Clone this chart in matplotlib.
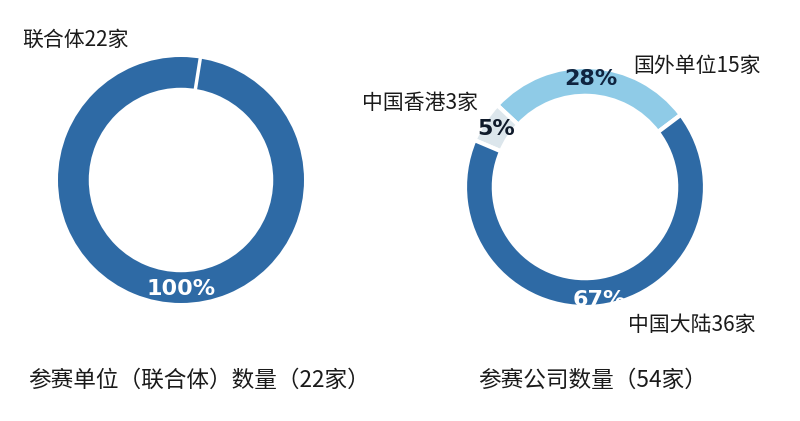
import matplotlib
matplotlib.use("Agg")
import matplotlib.pyplot as plt
import numpy as np

plt.rcParams['font.family'] = ['Noto Sans CJK SC', 'DejaVu Sans']

# Data
left_labels = ["联合体22家"]
left_values = [22]
left_pct = ["100%"]
left_title = "参赛单位（联合体）数量（22家）"

right_labels = ["国外单位15家", "中国香港3家", "中国大陆36家"]
right_values = [15, 3, 36]
right_pct = ["28%", "5%", "67%"]
right_title = "参赛公司数量（54家）"

DARK = "#2e6aa5"
LIGHT = "#8fcbe7"
PALE = "#dce6ec"

W, H = 800, 421
fig = plt.figure(figsize=(W / 100, H / 100), dpi=100)


def px_axes(cx, cy, r):
    return fig.add_axes([(cx - r) / W, (H - cy - r) / H, 2 * r / W, 2 * r / H])


PCT_FONT = dict(fontsize=16, fontweight="bold", family=["DejaVu Sans"],
                ha="center", va="center")

# Left donut
axL = px_axes(181, 180, 123)
ring_w = 0.25
wl, _ = axL.pie(left_values, colors=[DARK], startangle=81, counterclock=True,
                radius=1, wedgeprops=dict(width=ring_w, edgecolor="white", linewidth=0))
axL.set_xlim(-1, 1); axL.set_ylim(-1, 1); axL.set_aspect('equal'); axL.axis('off')
# white separator at the start of the single wedge
t0 = np.deg2rad(wl[0].theta1)
axL.plot([(1 - ring_w - 0.02) * np.cos(t0), 1.02 * np.cos(t0)],
         [(1 - ring_w - 0.02) * np.sin(t0), 1.02 * np.sin(t0)],
         color="white", lw=2.5, solid_capstyle="butt")
ang = np.deg2rad(270)
axL.text(0.89 * np.cos(ang), 0.89 * np.sin(ang), left_pct[0], color="white", **PCT_FONT)

# Right donut
axR = px_axes(585, 187, 120)
wr, _ = axR.pie(right_values, colors=[LIGHT, PALE, DARK], startangle=37, counterclock=True,
                radius=1, wedgeprops=dict(width=0.24, edgecolor="white", linewidth=3))
axR.set_xlim(-1, 1); axR.set_ylim(-1, 1); axR.set_aspect('equal'); axR.axis('off')
pct_r = [0.9, 0.88, 0.95]
pct_col = ["#0f2440", "#0f1a2a", "white"]
for w, p, r, c in zip(wr, right_pct, pct_r, pct_col):
    mid = np.deg2rad((w.theta1 + w.theta2) / 2)
    axR.text(r * np.cos(mid), r * np.sin(mid), p, color=c, **PCT_FONT)

# Outer labels (pixel positions)
def ptext(x, y, s, ha="left", size=15):
    fig.text(x / W, 1 - y / H, s, ha=ha, va="center", fontsize=size, color="#1a1a1a")

ptext(22, 40, left_labels[0])
ptext(633, 66, right_labels[0])
ptext(362, 103, right_labels[1])
ptext(628, 325, right_labels[2])

ptext(28, 380, left_title, size=16.3)
ptext(478, 380, right_title, size=16.3)

fig.savefig("out.png", dpi=100, facecolor="white")
